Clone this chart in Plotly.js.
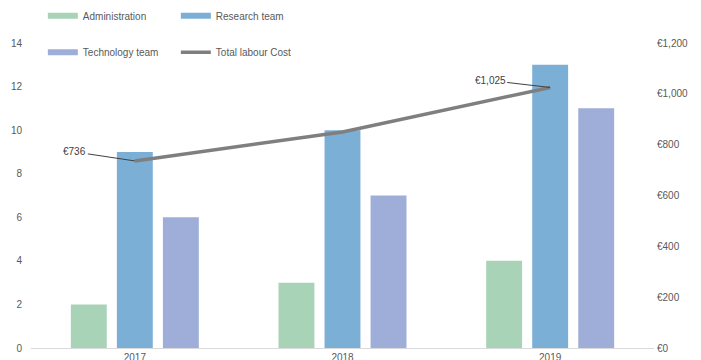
<!DOCTYPE html>
<html>
<head>
<meta charset="utf-8">
<script src="https://cdn.plot.ly/plotly-3.0.1.min.js"></script>
<style>
  html, body { margin: 0; padding: 0; background: #fff; }
  #chart { width: 701px; height: 360px; }
</style>
</head>
<body>
<div id="chart"></div>
<script>
// Headcount per team and total labour cost by year
const years = ['2017', '2018', '2019'];
const administration = [2, 3, 4];
const researchTeam = [9, 10, 13];
const technologyTeam = [6, 7, 11];
const totalLabourCost = [736, 850, 1025];

const seriesNames = ['Administration', 'Research team', 'Technology team', 'Total labour Cost'];
const colors = ['#a9d3b7', '#7bafd5', '#9eaed9', '#7f7f7f'];

const textColor = '#595959';
const font = { family: 'Liberation Sans, Arial, sans-serif', size: 10, color: textColor };

const barSeries = [administration, researchTeam, technologyTeam];
const legendFor = ['legend', 'legend', 'legend2'];

const traces = [];
barSeries.forEach((vals, i) => {
  traces.push({
    type: 'bar',
    name: seriesNames[i],
    x: years,
    y: vals,
    marker: { color: colors[i] },
    legendgroup: seriesNames[i],
    showlegend: false,
    hoverinfo: 'x+y+name'
  });
});

// Wide, thin legend keys for the bar series (no visible points)
barSeries.forEach((vals, i) => {
  traces.push({
    type: 'scatter',
    mode: 'lines',
    name: seriesNames[i],
    x: [years[0]],
    y: [null],
    line: { color: colors[i], width: 6 },
    legendgroup: seriesNames[i],
    legend: legendFor[i],
    hoverinfo: 'skip'
  });
});

traces.push({
  type: 'scatter',
  mode: 'lines',
  name: seriesNames[3],
  x: years,
  y: totalLabourCost,
  yaxis: 'y2',
  line: { color: colors[3], width: 3.5 },
  legend: 'legend2'
});

// Value callouts on the first and last points of the cost line
const fmtEuro = v => '€' + v.toLocaleString('en-US');
const labelled = [0, 2];
const annotations = labelled.map(i => ({
  x: i,               // category index on the x axis
  y: totalLabourCost[i],
  xref: 'x',
  yref: 'y2',
  text: fmtEuro(totalLabourCost[i]),
  showarrow: true,
  arrowhead: 0,
  arrowwidth: 1,
  arrowcolor: '#404040',
  standoff: 0,
  startstandoff: 0,
  ax: -60,
  ay: i === 0 ? -9 : -7,
  font: { family: font.family, size: 10, color: '#404040' }
}));

const legendCommon = {
  orientation: 'h',
  xanchor: 'left',
  yanchor: 'middle',
  bgcolor: 'rgba(0,0,0,0)',
  font: font,
  entrywidth: 88,
  itemclick: false,
  itemdoubleclick: false
};

const layout = {
  width: 701,
  height: 360,
  margin: { l: 31, r: 47, t: 43, b: 12, autoexpand: false },
  paper_bgcolor: '#ffffff',
  plot_bgcolor: '#ffffff',
  font: font,
  barmode: 'group',
  bargap: 0.335,
  bargroupgap: 0.22,
  showlegend: true,
  legend: Object.assign({}, legendCommon, { x: 0.019, y: 1.089 }),
  legend2: Object.assign({}, legendCommon, { x: 0.019, y: 0.970 }),
  xaxis: {
    type: 'category',
    categoryorder: 'array',
    categoryarray: years,
    range: [-0.5, years.length - 0.5],
    showline: true,
    linecolor: '#d9d9d9',
    linewidth: 1,
    ticks: '',
    showgrid: false,
    zeroline: false,
    automargin: false,
    tickfont: font
  },
  yaxis: {
    range: [0, 14],
    dtick: 2,
    showgrid: false,
    zeroline: false,
    showline: false,
    ticks: '',
    ticklabelstandoff: 8,
    automargin: false,
    tickfont: font
  },
  yaxis2: {
    overlaying: 'y',
    side: 'right',
    range: [0, 1200],
    dtick: 200,
    tickprefix: '€',
    tickformat: ',d',
    showgrid: false,
    zeroline: false,
    showline: false,
    ticks: '',
    ticklabelstandoff: 2,
    automargin: false,
    tickfont: font
  },
  annotations: annotations
};

Plotly.newPlot('chart', traces, layout, { displayModeBar: false });
</script>
</body>
</html>
